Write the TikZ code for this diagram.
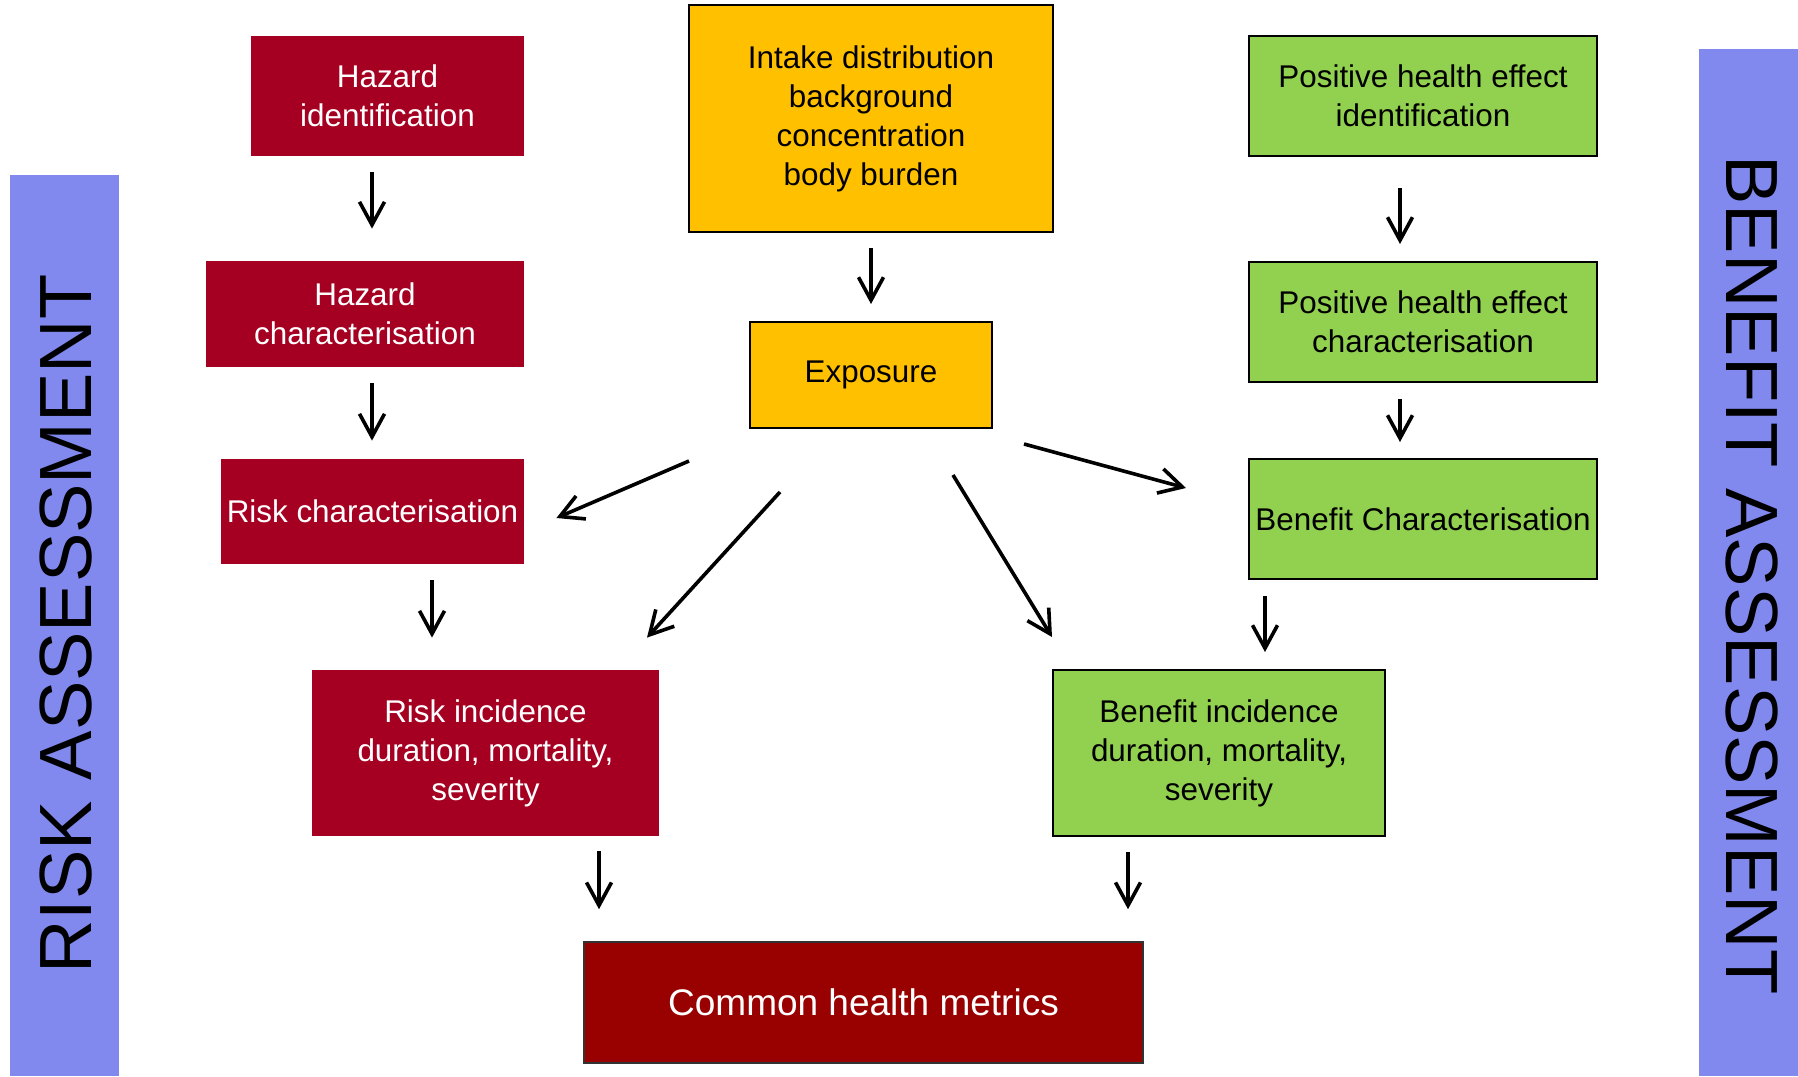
\documentclass[tikz,border=0pt]{standalone}
\usepackage{fontspec}
\setmainfont{Liberation Sans}
\usetikzlibrary{arrows.meta}
\definecolor{riskred}{HTML}{A50021}
\definecolor{metricred}{HTML}{990000}
\definecolor{expyellow}{HTML}{FFC000}
\definecolor{bengreen}{HTML}{92D050}
\definecolor{barblue}{HTML}{8189EF}
\begin{document}
\begin{tikzpicture}[x=0.5pt,y=-0.5pt,
  box/.style={rectangle, inner sep=0pt, align=center, font=\fontsize{15.7}{19.5}\selectfont},
  sz/.style 2 args={minimum width=#1, minimum height=#2},
  redbox/.style={box, fill=riskred, text=white},
  metricbox/.style={box, fill=metricred, text=white, draw=black!80, line width=0.8pt, font=\fontsize{18.5}{22}\selectfont},
  yelbox/.style={box, fill=expyellow, draw=black, line width=1pt},
  grnbox/.style={box, fill=bengreen, draw=black, line width=1pt},
  arr/.style={-{Straight Barb[length=11.5pt,width=12.5pt,line width=1.8pt]}, line width=1.8pt},
  bar/.style={rectangle, inner sep=0pt, fill=barblue, draw=none},
  bartext/.style={font=\fontsize{37}{40}\selectfont, inner sep=0pt}]
\useasboundingbox (0,0) rectangle (1798,1076);

% side bars
\node[bar, sz={54.5pt}{450.5pt}] (rbar) at (64.5,625.5) {};
\node[bar, sz={49.5pt}{513.5pt}] (bbar) at (1748.5,562.5) {};
\node[bartext, rotate=90] (rtxt) at (66,624) {RISK ASSESSMENT};
\node[bartext, rotate=-90] (btxt) at (1752,575) {BENEFIT ASSESSMENT};

% risk column
\node[redbox, sz={136.5pt}{60pt}] (hid) at (387.5,96) {Hazard\\identification};
\node[redbox, sz={159pt}{53pt}] (hch) at (365,314) {Hazard\\characterisation};
\node[redbox, sz={151.5pt}{52.5pt}] (rch) at (372.5,511.5) {Risk characterisation};
\node[redbox, sz={173.5pt}{83pt}] (rin) at (485.5,753) {Risk incidence\\duration, mortality,\\severity};

% centre
\node[yelbox, sz={182pt}{113.5pt}] (intake) at (871,118.5) {Intake distribution\\background\\concentration\\body burden};
\node[yelbox, sz={121pt}{53pt}] (exp) at (871,375) {Exposure};
\node[metricbox, sz={279.5pt}{60.5pt}] (chm) at (863.5,1002.5) {Common health metrics};

% benefit column
\node[grnbox, sz={174pt}{60pt}] (pid) at (1423,96) {Positive health effect\\identification};
\node[grnbox, sz={174pt}{60pt}] (pch) at (1423,322) {Positive health effect\\characterisation};
\node[grnbox, sz={174pt}{60pt}] (bch) at (1423,519) {Benefit Characterisation};
\node[grnbox, sz={166pt}{83pt}] (bin) at (1219,753) {Benefit incidence\\duration, mortality,\\severity};

% arrows
\draw[arr] ([shift={(-15.5,16)}]hid.south) -- ([shift={(7,-32)}]hch.north);
\draw[arr] ([shift={(7,16)}]hch.south) -- ([shift={(-0.5,-18)}]rch.north);
\draw[arr] ([shift={(59.5,16)}]rch.south) -- ([shift={(-53.5,-32)}]rin.north);
\draw[arr] ([shift={(113.5,15)}]rin.south) -- ([shift={(-264.5,-32)}]chm.north);
\draw[arr] ([shift={(-91,15)}]bin.south) -- ([shift={(264.5,-32)}]chm.north);
\draw[arr] ([shift={(0,15)}]intake.south) -- ([shift={(0,-17)}]exp.north);
\draw[arr] ([shift={(-182,32)}]exp.south) -- ([shift={(32,6.5)}]rch.east);
\draw[arr] ([shift={(-91,63)}]exp.south) -- ([shift={(161.5,-32)}]rin.north);
\draw[arr] ([shift={(82,46)}]exp.south) -- ([shift={(-167,-32)}]bin.north);
\draw[arr] ([shift={(31,69)}]exp.east) -- ([shift={(-62,-31)}]bch.west);
\draw[arr] ([shift={(-23,31)}]pid.south) -- ([shift={(-23,-17)}]pch.north);
\draw[arr] ([shift={(-23,16)}]pch.south) -- ([shift={(-23,-16)}]bch.north);
\draw[arr] ([shift={(-158,16)}]bch.south) -- ([shift={(46,-17)}]bin.north);
\end{tikzpicture}
\end{document}
